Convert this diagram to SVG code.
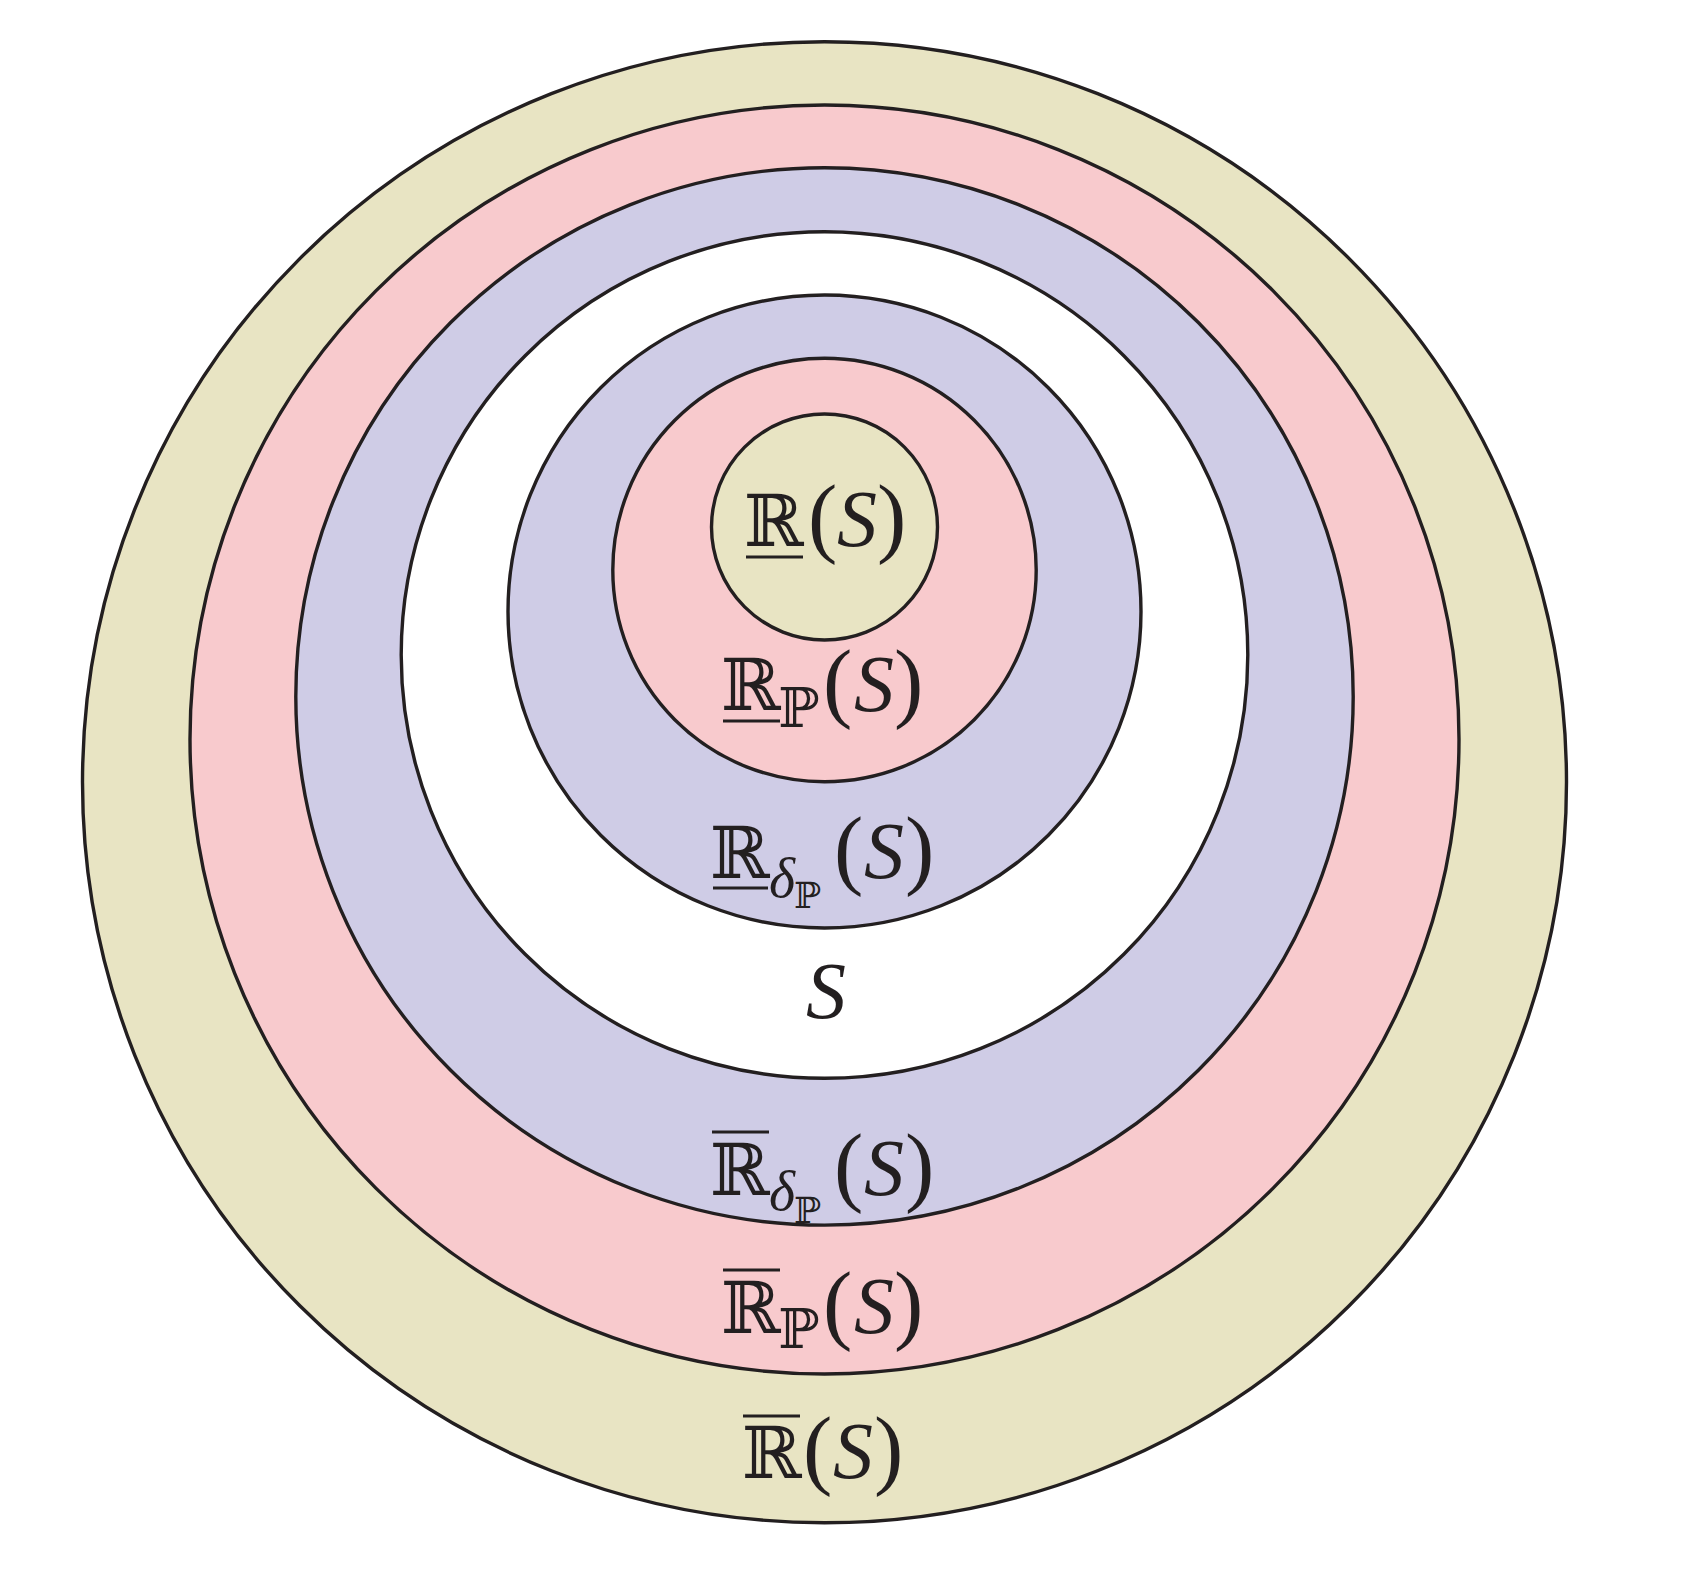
<svg xmlns="http://www.w3.org/2000/svg" width="1701" height="1580" viewBox="0 0 1701 1580">
<style>
.ring{stroke:#231F20;stroke-width:3.4}
.ol{fill:#E8E4C3}.pk{fill:#F8CACD}.bl{fill:#CFCCE6}.wh{fill:#FFFFFF}
text{fill:#231F20}
.bb{font-family:"DejaVu Serif",serif;font-size:72px}
.it{font-family:"Liberation Serif",serif;font-style:italic;font-size:80px}
.pa{font-family:"Liberation Serif",serif;font-size:88px}
.sub{font-family:"DejaVu Serif",serif;font-size:55px}
.ssub{font-family:"DejaVu Serif",serif;font-size:36px}
.dl{font-family:"Liberation Serif",serif;font-style:italic;font-size:56px}
.bar{stroke:#231F20;stroke-width:3}
</style>
<rect width="1701" height="1580" fill="#FFFFFF"/>

<g id="upper-R-outer">
<ellipse class="ring ol" cx="824.5" cy="782.2" rx="742" ry="740.5"/>
<line class="bar" x1="743" y1="1416" x2="800" y2="1416"/>
<text class="bb" x="742" y="1478">ℝ</text>
<text class="pa" x="803" y="1478">(</text>
<text class="it" x="833" y="1478">S</text>
<text class="pa" x="874" y="1478">)</text>
</g>

<g id="upper-RP">
<circle class="ring pk" cx="824.5" cy="739.5" r="634.5"/>
<line class="bar" x1="723" y1="1270" x2="780" y2="1270"/>
<text class="bb" x="721" y="1333">ℝ</text>
<text class="sub" x="778" y="1348">ℙ</text>
<text class="pa" x="823" y="1333">(</text>
<text class="it" x="854" y="1333">S</text>
<text class="pa" x="894" y="1333">)</text>
</g>

<g id="upper-RdP">
<circle class="ring bl" cx="824.5" cy="696.4" r="528.7"/>
<line class="bar" x1="712" y1="1132" x2="769" y2="1132"/>
<text class="bb" x="710" y="1195">ℝ</text>
<text class="dl" x="769" y="1210">δ</text>
<text class="ssub" x="794" y="1223">ℙ</text>
<text class="pa" x="834" y="1195">(</text>
<text class="it" x="864" y="1195">S</text>
<text class="pa" x="905" y="1195">)</text>
</g>

<g id="set-S">
<circle class="ring wh" cx="824.5" cy="655" r="423.3"/>
<text class="it" x="806" y="1018">S</text>
</g>

<g id="lower-RdP">
<circle class="ring bl" cx="824.5" cy="611.5" r="316.5"/>
<line class="bar" x1="713" y1="888" x2="768" y2="888"/>
<text class="bb" x="710" y="878">ℝ</text>
<text class="dl" x="769" y="897">δ</text>
<text class="ssub" x="794" y="908">ℙ</text>
<text class="pa" x="834" y="878">(</text>
<text class="it" x="864" y="878">S</text>
<text class="pa" x="905" y="878">)</text>
</g>

<g id="lower-RP">
<circle class="ring pk" cx="824.5" cy="570" r="211.7"/>
<line class="bar" x1="723" y1="721" x2="780" y2="721"/>
<text class="bb" x="721" y="710">ℝ</text>
<text class="sub" x="778" y="727">ℙ</text>
<text class="pa" x="823" y="711">(</text>
<text class="it" x="854" y="711">S</text>
<text class="pa" x="894" y="711">)</text>
</g>

<g id="lower-R">
<circle class="ring ol" cx="824.5" cy="527" r="113"/>
<line class="bar" x1="746" y1="557" x2="803" y2="557"/>
<text class="bb" x="744" y="546">ℝ</text>
<text class="pa" x="808" y="546">(</text>
<text class="it" x="837" y="546">S</text>
<text class="pa" x="877" y="546">)</text>
</g>
</svg>
